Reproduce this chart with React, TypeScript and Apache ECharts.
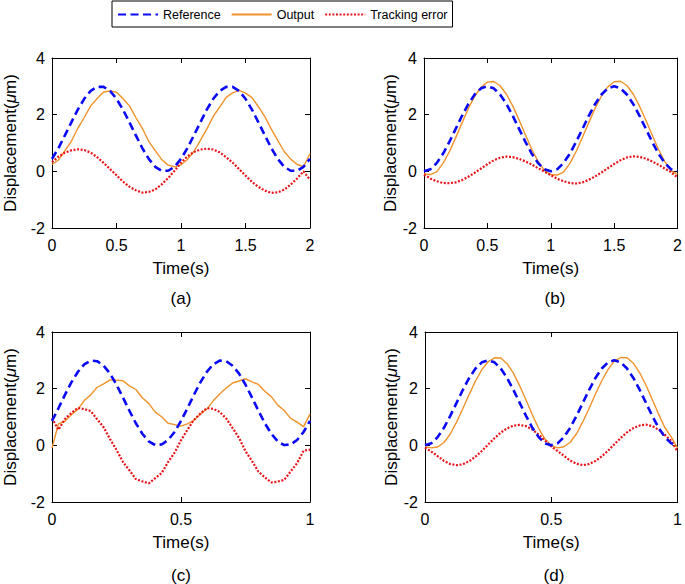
import React, { useEffect, useRef } from 'react';
import * as echarts from 'echarts';

const FONT = "'Liberation Sans', Arial, Helvetica, sans-serif";

const tAB = [0,0.05,0.1,0.15,0.2,0.25,0.3,0.35,0.4,0.45,0.5,0.55,0.6,0.65,0.7,0.75,0.8,0.85,0.9,0.95,1,1.05,1.1,1.15,1.2,1.25,1.3,1.35,1.4,1.45,1.5,1.55,1.6,1.65,1.7,1.75,1.8,1.85,1.9,1.95,2];
const tCD = [0,0.025,0.05,0.075,0.1,0.125,0.15,0.175,0.2,0.225,0.25,0.275,0.3,0.325,0.35,0.375,0.4,0.425,0.45,0.475,0.5,0.525,0.55,0.575,0.6,0.625,0.65,0.675,0.7,0.725,0.75,0.775,0.8,0.825,0.85,0.875,0.9,0.925,0.95,0.975,1];

const xTicksAB = [0, 0.5, 1, 1.5, 2];
const xTicksCD = [0, 0.5, 1];
const yTicks = [-2, 0, 2, 4];

const refA = [0.44,0.82,1.27,1.73,2.18,2.56,2.84,2.98,2.98,2.84,2.56,2.18,1.73,1.27,0.82,0.44,0.16,0.02,0.02,0.16,0.44,0.82,1.27,1.73,2.18,2.56,2.84,2.98,2.98,2.84,2.56,2.18,1.73,1.27,0.82,0.44,0.16,0.02,0.02,0.16,0.44];
const outA = [0.24,0.40,0.73,1.06,1.52,1.90,2.31,2.57,2.80,2.84,2.79,2.57,2.31,1.90,1.52,1.06,0.73,0.42,0.22,0.16,0.23,0.42,0.70,1.09,1.49,1.94,2.27,2.61,2.77,2.86,2.76,2.60,2.28,1.93,1.49,1.09,0.70,0.43,0.24,0.17,0.62];
const errA = [0.32,0.52,0.66,0.74,0.78,0.75,0.66,0.50,0.30,0.08,-0.14,-0.36,-0.54,-0.67,-0.75,-0.73,-0.64,-0.46,-0.24,0.02,0.30,0.53,0.68,0.77,0.80,0.77,0.67,0.50,0.31,0.08,-0.15,-0.37,-0.55,-0.68,-0.76,-0.74,-0.65,-0.47,-0.25,0.0,-0.3];

const refB = [0,0.07,0.29,0.62,1.04,1.5,1.96,2.38,2.71,2.93,3.0,2.93,2.71,2.38,1.96,1.5,1.04,0.62,0.29,0.07,0,0.07,0.29,0.62,1.04,1.5,1.96,2.38,2.71,2.93,3.0,2.93,2.71,2.38,1.96,1.5,1.04,0.62,0.29,0.07,0.02];
const outB = [-0.08,-0.12,-0.02,0.28,0.69,1.19,1.71,2.22,2.65,2.97,3.15,3.17,3.02,2.72,2.31,1.81,1.29,0.78,0.35,0.03,-0.12,-0.13,-0.03,0.27,0.70,1.20,1.72,2.23,2.66,2.98,3.16,3.18,3.03,2.73,2.30,1.80,1.28,0.77,0.34,0.02,-0.1];
const errB = [-0.12,-0.25,-0.35,-0.41,-0.42,-0.39,-0.31,-0.19,-0.05,0.10,0.25,0.39,0.48,0.52,0.50,0.44,0.35,0.24,0.11,-0.01,-0.13,-0.26,-0.35,-0.41,-0.43,-0.39,-0.30,-0.18,-0.04,0.11,0.26,0.39,0.49,0.53,0.51,0.45,0.35,0.23,0.10,-0.03,-0.22];

const refC = [0.86,1.31,1.78,2.22,2.59,2.86,2.99,2.97,2.81,2.53,2.14,1.69,1.22,0.78,0.41,0.14,0.01,0.03,0.19,0.47,0.86,1.31,1.78,2.22,2.59,2.86,2.99,2.97,2.81,2.53,2.14,1.69,1.22,0.78,0.41,0.14,0.01,0.03,0.19,0.47,0.86];
const outC = [-0.1,0.76,0.85,1.08,1.27,1.58,1.78,2.05,2.17,2.31,2.30,2.28,2.10,1.97,1.68,1.48,1.17,1.01,0.78,0.73,0.68,0.76,0.88,1.1,1.28,1.57,1.81,2.02,2.2,2.27,2.35,2.24,2.15,1.91,1.72,1.42,1.23,0.95,0.82,0.66,1.1];
const errC = [0.96,0.55,0.93,1.14,1.32,1.28,1.21,0.92,0.64,0.22,-0.16,-0.59,-0.88,-1.19,-1.27,-1.34,-1.16,-0.98,-0.59,-0.26,0.18,0.55,0.9,1.12,1.31,1.29,1.18,0.95,0.61,0.26,-0.21,-0.55,-0.93,-1.13,-1.31,-1.28,-1.22,-0.92,-0.63,-0.19,-0.15];

const refD = [0,0.07,0.29,0.62,1.04,1.5,1.96,2.38,2.71,2.93,3.0,2.93,2.71,2.38,1.96,1.5,1.04,0.62,0.29,0.07,0,0.07,0.29,0.62,1.04,1.5,1.96,2.38,2.71,2.93,3.0,2.93,2.71,2.38,1.96,1.5,1.04,0.62,0.29,0.07,0];
const outD = [-0.05,-0.09,-0.06,0.1,0.4,0.82,1.3,1.8,2.27,2.67,2.95,3.09,3.08,2.88,2.55,2.1,1.6,1.08,0.6,0.22,0.0,-0.09,-0.05,0.11,0.41,0.83,1.31,1.81,2.28,2.68,2.97,3.1,3.09,2.9,2.56,2.12,1.62,1.1,0.62,0.3,-0.1];
const errD = [-0.08,-0.22,-0.38,-0.55,-0.66,-0.7,-0.67,-0.56,-0.4,-0.2,0.03,0.25,0.45,0.6,0.69,0.72,0.68,0.56,0.38,0.17,-0.04,-0.2,-0.37,-0.54,-0.65,-0.7,-0.66,-0.55,-0.39,-0.19,0.04,0.26,0.46,0.61,0.7,0.73,0.68,0.55,0.37,0.16,-0.22];

const seriesNames = ['Reference', 'Output', 'Tracking error'];
const panelLabels = ['(a)', '(b)', '(c)', '(d)'];
const xName = 'Time(s)';
const yName = 'Displacement({mu|μ}m)';

const COLORS = { ref: '#0A0AF5', out: '#F0922A', err: '#E8141A' };

function buildOption() {
  const panels = [
    { grid: { left: 52, top: 58, width: 258, height: 170 }, t: tAB, ticks: xTicksAB, ref: refA, out: outA, err: errA, yGap: 33, lx: 181, ly: 298 },
    { grid: { left: 424, top: 58, width: 258, height: 170 }, t: tAB, ticks: xTicksAB, ref: refB, out: outB, err: errB, yGap: 24, lx: 555, ly: 298 },
    { grid: { left: 52, top: 332, width: 258, height: 170 }, t: tCD, ticks: xTicksCD, ref: refC, out: outC, err: errC, yGap: 33, lx: 181, ly: 575 },
    { grid: { left: 425, top: 332, width: 257, height: 170 }, t: tCD, ticks: xTicksCD, ref: refD, out: outD, err: errD, yGap: 24, lx: 554, ly: 575 },
  ];
  const axisLine = { show: true, onZero: false, lineStyle: { color: '#000', width: 1 } };
  const axisTick = { show: true, inside: true, length: 5, lineStyle: { color: '#000', width: 1 } };
  const grid: any[] = [];
  const xAxis: any[] = [];
  const yAxis: any[] = [];
  const series: any[] = [];
  const graphic: any[] = [];
  panels.forEach((p, i) => {
    grid.push({ ...p.grid, containLabel: false });
    const xmin = p.ticks[0];
    const xmax = p.ticks[p.ticks.length - 1];
    const ymin = yTicks[0];
    const ymax = yTicks[yTicks.length - 1];
    xAxis.push({
      type: 'value', gridIndex: i, min: xmin, max: xmax, interval: 0.5, position: 'bottom',
      name: xName, nameLocation: 'middle', nameGap: 32,
      nameTextStyle: { fontSize: 17, color: '#000', fontFamily: FONT, fontWeight: 'normal' },
      axisLine, axisTick,
      axisLabel: { fontSize: 16, color: '#000', margin: 9, fontFamily: FONT, fontWeight: 'normal' },
      splitLine: { show: false },
    });
    xAxis.push({
      type: 'value', gridIndex: i, min: xmin, max: xmax, interval: 0.5, position: 'top',
      axisLine, axisTick, axisLabel: { show: false }, splitLine: { show: false },
    });
    yAxis.push({
      type: 'value', gridIndex: i, min: ymin, max: ymax, interval: 2, position: 'left',
      name: yName, nameLocation: 'middle', nameGap: p.yGap, nameRotate: 90,
      nameTextStyle: {
        fontSize: 17, color: '#000', fontFamily: FONT, fontWeight: 'normal',
        rich: { mu: { fontSize: 17, color: '#000', fontFamily: FONT, fontStyle: 'italic', fontWeight: 'normal' } },
      },
      axisLine, axisTick,
      axisLabel: { fontSize: 16, color: '#000', margin: 7, fontFamily: FONT, fontWeight: 'normal' },
      splitLine: { show: false },
    });
    yAxis.push({
      type: 'value', gridIndex: i, min: ymin, max: ymax, interval: 2, position: 'right',
      axisLine, axisTick, axisLabel: { show: false }, splitLine: { show: false },
    });
    const zip = (vals: number[]) => p.t.map((t, k) => [t, vals[k]]);
    series.push({
      name: seriesNames[1], type: 'line', xAxisIndex: 2 * i, yAxisIndex: 2 * i,
      data: zip(p.out), showSymbol: false, symbol: 'none',
      lineStyle: { color: COLORS.out, width: 1.4 }, itemStyle: { color: COLORS.out },
    });
    series.push({
      name: seriesNames[2], type: 'line', xAxisIndex: 2 * i, yAxisIndex: 2 * i,
      data: zip(p.err), showSymbol: false, symbol: 'none',
      lineStyle: { color: COLORS.err, width: 2.2, type: [2, 1.6] }, itemStyle: { color: COLORS.err },
    });
    series.push({
      name: seriesNames[0], type: 'line', xAxisIndex: 2 * i, yAxisIndex: 2 * i,
      data: zip(p.ref), showSymbol: false, symbol: 'none',
      lineStyle: { color: COLORS.ref, width: 2.6, type: [8, 4.5] }, itemStyle: { color: COLORS.ref },
    });
    graphic.push({
      type: 'text', x: p.lx, y: p.ly,
      style: { text: panelLabels[i], fill: '#000', font: `17px ${FONT}`, textAlign: 'center', textVerticalAlign: 'middle' },
    });
  });
  return {
    animation: false,
    backgroundColor: '#fff',
    legend: {
      data: seriesNames, left: 112, top: 1, orient: 'horizontal',
      itemWidth: 40, itemHeight: 12, itemGap: 10, padding: [7, 5, 6, 5],
      borderColor: '#000', borderWidth: 1, backgroundColor: '#fff',
      itemStyle: { opacity: 0 },
      textStyle: { fontSize: 12.5, color: '#000', fontFamily: FONT, fontWeight: 'normal' },
    },
    grid, xAxis, yAxis, series, graphic,
  };
}

export default function App() {
  const ref = useRef<HTMLDivElement>(null);
  useEffect(() => {
    const chart = echarts.init(ref.current!, null, { renderer: 'svg' });
    chart.setOption(buildOption() as any);
    return () => chart.dispose();
  }, []);
  return <div ref={ref} style={{ position: 'fixed', left: 0, top: 0, width: 685, height: 584 }} />;
}
